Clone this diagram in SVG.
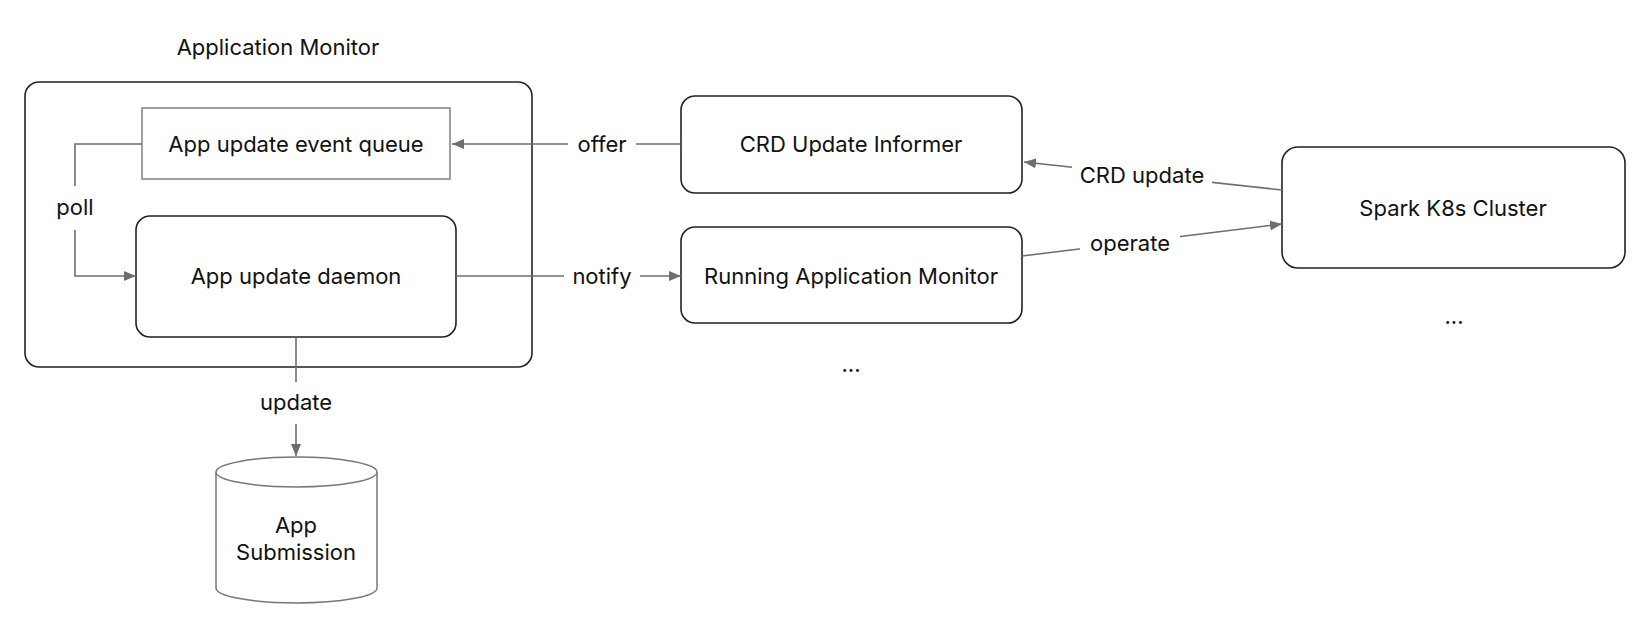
<svg xmlns="http://www.w3.org/2000/svg" width="1651" height="629" viewBox="0 0 1651 629">
<style>
text{font-family:Inter,"Liberation Sans",sans-serif;font-size:22px;fill:#111;text-anchor:middle;dominant-baseline:central}
.box{fill:#fff;stroke:#222;stroke-width:1.6}
.qbox{fill:#fff;stroke:#888;stroke-width:1.6}
.db{fill:#fff;stroke:#777;stroke-width:1.5}
.edge{fill:none;stroke:#6e6e6e;stroke-width:1.6}
.lbg{fill:#fff}
</style>
<defs>
<marker id="ah" viewBox="0 0 12 10" refX="12" refY="5" markerWidth="12" markerHeight="10" markerUnits="userSpaceOnUse" orient="auto">
<path d="M0,0 L12,5 L0,10 Z" fill="#6e6e6e"/>
</marker>
</defs>
<g id="app-monitor">
<text x="278" y="47">Application Monitor</text>
<rect class="box" x="25" y="82" width="507" height="285" rx="14"/>
</g>
<g id="event-queue">
<rect class="qbox" x="142" y="108" width="308" height="71"/>
<text x="296" y="144">App update event queue</text>
</g>
<g id="daemon">
<rect class="box" x="136" y="216" width="320" height="121" rx="14"/>
<text x="296" y="276">App update daemon</text>
</g>
<g id="crd-informer">
<rect class="box" x="681" y="96" width="341" height="97" rx="14"/>
<text x="851" y="144">CRD Update Informer</text>
</g>
<g id="running-monitor">
<rect class="box" x="681" y="227" width="341" height="96" rx="14"/>
<text x="851" y="276">Running Application Monitor</text>
<text x="851" y="364">...</text>
</g>
<g id="spark-cluster">
<rect class="box" x="1282" y="147" width="343" height="121" rx="16"/>
<text x="1453" y="208">Spark K8s Cluster</text>
<text x="1454" y="316">...</text>
</g>
<g id="app-submission">
<path class="db" d="M216,472 A80.5,15 0 0 1 377,472 V588 A80.5,15 0 0 1 216,588 Z"/>
<path class="db" d="M216,472 A80.5,15 0 0 0 377,472"/>
<text x="296" y="525">App</text>
<text x="296" y="552">Submission</text>
</g>
<g id="connectors">
<path class="edge" d="M681,144 H452" marker-end="url(#ah)"/>
<rect class="lbg" x="568" y="130" width="68" height="28"/>
<text x="602" y="144">offer</text>
<path class="edge" d="M456,276 H681" marker-end="url(#ah)"/>
<rect class="lbg" x="564" y="262" width="76" height="28"/>
<text x="602" y="276">notify</text>
<path class="edge" d="M142,144 H75 V276 H136" marker-end="url(#ah)"/>
<rect class="lbg" x="50" y="186" width="50" height="44"/>
<text x="75" y="207">poll</text>
<path class="edge" d="M296,337 V456" marker-end="url(#ah)"/>
<rect class="lbg" x="254" y="382" width="84" height="42"/>
<text x="296" y="402">update</text>
<path class="edge" d="M1282,190 L1024,162" marker-end="url(#ah)"/>
<rect class="lbg" x="1072" y="159" width="140" height="34"/>
<text x="1142" y="175">CRD update</text>
<path class="edge" d="M1022,256 L1282,224" marker-end="url(#ah)"/>
<rect class="lbg" x="1080" y="227" width="100" height="34"/>
<text x="1130" y="243">operate</text>
</g>
</svg>
